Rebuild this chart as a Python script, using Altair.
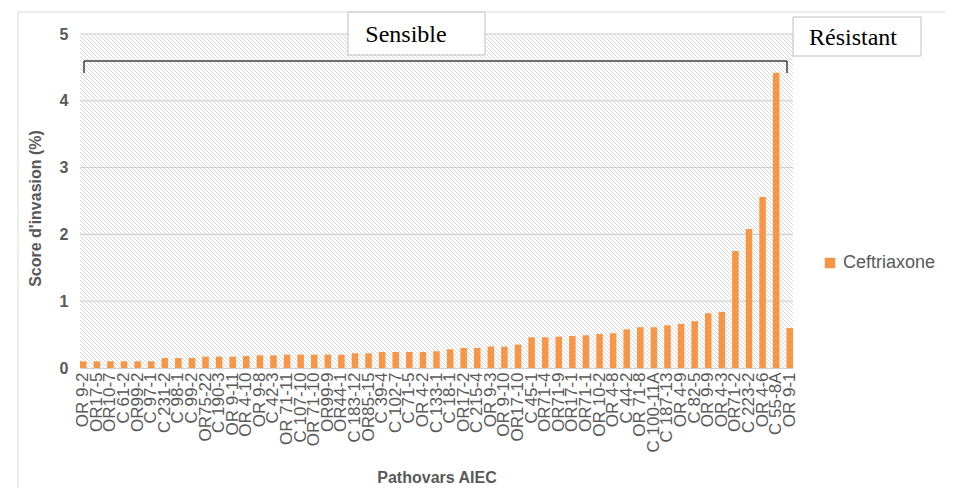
import altair as alt
import pandas as pd
import numpy as np

strains = [
    "OR 9-2", "OR17-5", "OR10-7", "C 61-2", "OR99-2", "C 97-1", "C 231-2", "C 98-1",
    "C 99-2", "OR75-22", "C 190-3", "OR 9-11", "OR 4-10", "OR 9-8", "C 42-3", "OR 71-11",
    "C 107-10", "OR 71-10", "OR99-9", "OR44-1", "C 183-12", "OR85-15", "C 39-4", "C 102-7",
    "C 71-5", "OR 4-2", "C 133-1", "C 18-1", "OR17-2", "C 215-4", "OR 9-3", "OR 9-10",
    "OR17-10", "C 45-1", "OR71-4", "OR71-9", "OR17-1", "OR71-1", "OR 10-2", "OR 4-8",
    "C 44-2", "OR 71-8", "C 100-11A", "C 187-13", "OR 4-9", "C 82-5", "OR 9-9", "OR 4-3",
    "OR71-2", "C 223-2", "OR 4-6", "C 55-8A", "OR 9-1",
]
scores = [
    0.10, 0.10, 0.10, 0.10, 0.10, 0.10, 0.15, 0.15,
    0.15, 0.17, 0.17, 0.17, 0.18, 0.19, 0.19, 0.20,
    0.20, 0.20, 0.20, 0.20, 0.22, 0.22, 0.24, 0.24,
    0.24, 0.24, 0.25, 0.28, 0.30, 0.30, 0.32, 0.32,
    0.35, 0.46, 0.46, 0.47, 0.48, 0.49, 0.51, 0.52,
    0.58, 0.61, 0.61, 0.64, 0.66, 0.70, 0.82, 0.84,
    1.75, 2.08, 2.56, 4.42, 0.60,
]
series_name = "Ceftriaxone"
y_ticks = [0, 1, 2, 3, 4, 5]

W, H = 713, 334
GREY = "#595959"
ORANGE = "#F79646"
FONT = "Liberation Sans"

df = pd.DataFrame({"strain": strains, "score": scores, "serie": series_name})

# decorative diagonal hatch of the plot background
offs = np.arange(-H, W + 4, 4)
hatch_df = pd.DataFrame({"x": offs, "x2": offs + H, "y": 0, "y2": H})
hatch = alt.Chart(hatch_df).mark_rule(clip=True, color="#d4d4d4", strokeWidth=0.9).encode(
    x=alt.X("x:Q", scale=None, axis=None),
    x2="x2:Q",
    y=alt.Y("y:Q", scale=None, axis=None),
    y2="y2:Q",
)

grid = alt.Chart(pd.DataFrame({"v": y_ticks[1:]})).mark_rule(color="#cccccc", strokeWidth=1).encode(
    y=alt.Y("v:Q", scale=alt.Scale(domain=[0, 5]), axis=None)
)

bars = alt.Chart(df).mark_bar().encode(
    x=alt.X(
        "strain:N", sort=None,
        scale=alt.Scale(paddingInner=0.52, paddingOuter=0),
        axis=alt.Axis(
            title="Pathovars AIEC", labelAngle=-90, labelOverlap=False, labelPadding=4,
            labelFontSize=17, labelColor=GREY, labelFont=FONT, ticks=False,
            domainColor="#d0d0d0", titleFont=FONT, titleFontSize=16, titleFontWeight="bold",
            titleColor=GREY, titleY=109, titleBaseline="middle",
        ),
    ),
    y=alt.Y(
        "score:Q", scale=alt.Scale(domain=[0, 5]),
        axis=alt.Axis(
            values=y_ticks, grid=False, domain=False, ticks=False, labelPadding=12,
            labelFontSize=16, labelFontWeight="bold", labelColor=GREY, labelFont=FONT,
            title="Score d'invasion (%)", titleFont=FONT, titleFontSize=16,
            titleFontWeight="bold", titleColor=GREY, titleX=-45, titleY=174,
            titleBaseline="middle",
        ),
    ),
    color=alt.Color(
        "serie:N", scale=alt.Scale(range=[ORANGE]),
        legend=alt.Legend(
            title=None, orient="none", legendX=741, legendY=220, symbolType="square",
            symbolSize=110, labelFontSize=18, labelColor=GREY, labelFont=FONT,
        ),
    ),
)

outer = alt.Chart().mark_rect(fill=None, stroke="#d9d9d9", strokeWidth=1).encode(
    x=alt.value(-62), x2=alt.value(W + 300), y=alt.value(-22), y2=alt.value(H + 300)
)

box_s = alt.Chart().mark_rect(fill="white", stroke="#bfbfbf", strokeWidth=1).encode(
    x=alt.value(268), x2=alt.value(405), y=alt.value(-22), y2=alt.value(21)
)
txt_s = alt.Chart().mark_text(text="Sensible", font="Liberation Serif", fontSize=24,
                              color="black", baseline="middle").encode(
    x=alt.value(326), y=alt.value(1)
)
box_r = alt.Chart().mark_rect(fill="white", stroke="#bfbfbf", strokeWidth=1).encode(
    x=alt.value(713), x2=alt.value(841), y=alt.value(-17), y2=alt.value(22)
)
txt_r = alt.Chart().mark_text(text="Résistant", font="Liberation Serif", fontSize=24,
                              color="black", baseline="middle").encode(
    x=alt.value(773), y=alt.value(4)
)

BR = "#404040"
br_h = alt.Chart().mark_rule(color=BR, strokeWidth=1.5).encode(
    x=alt.value(4), x2=alt.value(707), y=alt.value(27)
)
br_l = alt.Chart().mark_rule(color=BR, strokeWidth=1.5).encode(
    x=alt.value(4), y=alt.value(27), y2=alt.value(39)
)
br_r = alt.Chart().mark_rule(color=BR, strokeWidth=1.5).encode(
    x=alt.value(707), y=alt.value(27), y2=alt.value(39)
)

chart = alt.layer(
    outer, hatch, grid, bars, box_s, txt_s, box_r, txt_r, br_h, br_l, br_r
).resolve_scale(
    x="independent", y="independent"
).properties(
    width=W, height=H,
    autosize=alt.AutoSizeParams(type="none"),
    padding={"left": 72, "top": 26, "right": 152, "bottom": 120},
    background="white",
).configure_view(stroke=None)

chart.save("out.html", embed_options={"renderer": "svg", "actions": False})
